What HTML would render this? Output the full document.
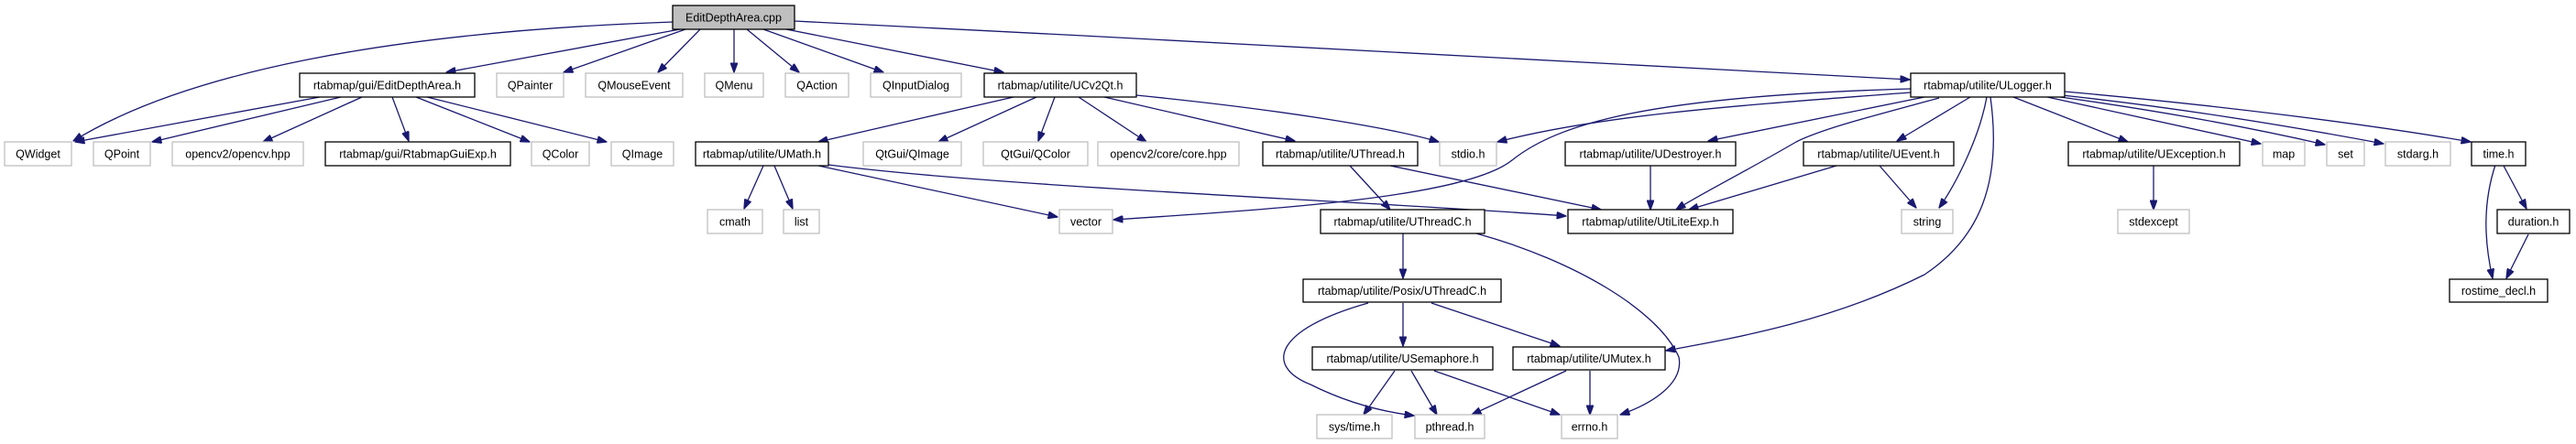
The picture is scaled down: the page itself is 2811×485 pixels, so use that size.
<!DOCTYPE html>
<html><head><meta charset="utf-8"><style>
html,body{margin:0;padding:0;background:#fff;}
svg{display:block;}
text{font-family:"Liberation Sans",sans-serif;font-size:12.5px;text-anchor:middle;fill:#000;}
.e{fill:none;stroke:#191970;stroke-width:1.3;marker-end:url(#a);}
.n{fill:#fff;stroke:#000;stroke-width:1.3;}
.x{fill:#fff;stroke:#bfbfbf;stroke-width:1.3;}
</style></head><body>
<svg width="2811" height="485" viewBox="0 0 2811 485" xmlns="http://www.w3.org/2000/svg">
<defs><marker id="a" markerWidth="11" markerHeight="8" refX="10.5" refY="4" orient="auto" markerUnits="userSpaceOnUse"><path d="M0,0 L11,4 L0,8 z" fill="#191970" stroke="#191970"/></marker></defs>
<path class="e" d="M734,24 C420,35 200,80 80,154"/>
<path class="e" d="M742,32 L487,79"/>
<path class="e" d="M748,32 L615,79"/>
<path class="e" d="M764,32 L718,79"/>
<path class="e" d="M801,32 L801,79"/>
<path class="e" d="M815,32 L872,79"/>
<path class="e" d="M833,32 L964,79"/>
<path class="e" d="M858,32 L1095,79"/>
<path class="e" d="M867,23 C1300,45 1800,70 2084,87"/>
<path class="e" d="M349,106 L82,155"/>
<path class="e" d="M372,106 L166,155"/>
<path class="e" d="M395,106 L287,155"/>
<path class="e" d="M428,106 L446,154"/>
<path class="e" d="M454,106 L578,155"/>
<path class="e" d="M466,106 L662,155"/>
<path class="e" d="M1106,106 L893,155"/>
<path class="e" d="M1131,106 L1024,155"/>
<path class="e" d="M1151,106 L1133,154"/>
<path class="e" d="M1177,106 L1251,155"/>
<path class="e" d="M1205,106 L1413,154"/>
<path class="e" d="M1240,104 C1400,120 1520,140 1570,155"/>
<path class="e" d="M833,181 L812,228"/>
<path class="e" d="M845,181 L865,228"/>
<path class="e" d="M893,181 L1154,237"/>
<path class="e" d="M904,180 C1100,205 1500,220 1709,236"/>
<path class="e" d="M2085,97 C1800,105 1700,135 1650,175 C1600,215 1400,228 1215,240"/>
<path class="e" d="M2085,101 C1900,115 1750,125 1634,155"/>
<path class="e" d="M2100,106 L1864,154"/>
<path class="e" d="M2116,107 C2050,125 1990,140 1960,155 C1900,190 1850,215 1829,229"/>
<path class="e" d="M2150,106 L2070,154"/>
<path class="e" d="M2168,106 C2160,150 2135,200 2116,227"/>
<path class="e" d="M2172,106 C2185,200 2160,260 2100,300 C2000,350 1900,368 1818,383"/>
<path class="e" d="M2197,106 L2322,155"/>
<path class="e" d="M2234,106 L2467,157"/>
<path class="e" d="M2241,105 C2350,120 2450,138 2537,158"/>
<path class="e" d="M2250,104 C2380,118 2500,138 2601,157"/>
<path class="e" d="M2253,100 C2420,115 2580,135 2696,155"/>
<path class="e" d="M2004,181 L1843,229"/>
<path class="e" d="M2051,181 L2091,227"/>
<path class="e" d="M1801,181 L1801,229"/>
<path class="e" d="M1517,181 L1747,229"/>
<path class="e" d="M1473,181 L1517,229"/>
<path class="e" d="M2350,181 L2350,229"/>
<path class="e" d="M2732,181 L2757,228"/>
<path class="e" d="M2723,180 C2710,220 2710,260 2720,304"/>
<path class="e" d="M2759,256 L2735,304"/>
<path class="e" d="M1531,255 L1531,304"/>
<path class="e" d="M1611,255 C1720,285 1810,340 1832,390 C1838,420 1800,442 1768,453"/>
<path class="e" d="M1493,331 C1390,360 1380,400 1430,420 C1470,440 1510,450 1543,454"/>
<path class="e" d="M1531,331 L1531,378"/>
<path class="e" d="M1562,331 L1702,378"/>
<path class="e" d="M1522,405 L1488,453"/>
<path class="e" d="M1540,405 L1568,453"/>
<path class="e" d="M1565,405 L1702,453"/>
<path class="e" d="M1709,405 L1606,453"/>
<path class="e" d="M1735,405 L1735,453"/>
<rect x="734" y="6" width="133" height="26" fill="#bfbfbf" stroke="#000" stroke-width="1.3"/><text x="800.5" y="23.5">EditDepthArea.cpp</text>
<rect class="n" x="327" y="80" width="191" height="26"/><text x="422.5" y="97.5">rtabmap/gui/EditDepthArea.h</text>
<rect class="x" x="542" y="80" width="73" height="26"/><text x="578.5" y="97.5">QPainter</text>
<rect class="x" x="639" y="80" width="106" height="26"/><text x="692" y="97.5">QMouseEvent</text>
<rect class="x" x="769" y="80" width="64" height="26"/><text x="801" y="97.5">QMenu</text>
<rect class="x" x="857" y="80" width="69" height="26"/><text x="891.5" y="97.5">QAction</text>
<rect class="x" x="950" y="80" width="99" height="26"/><text x="999.5" y="97.5">QInputDialog</text>
<rect class="n" x="1074" y="80" width="166" height="26"/><text x="1157" y="97.5">rtabmap/utilite/UCv2Qt.h</text>
<rect class="n" x="2085" y="80" width="168" height="26"/><text x="2169" y="97.5">rtabmap/utilite/ULogger.h</text>
<rect class="x" x="5" y="155" width="73" height="26"/><text x="41.5" y="172.5">QWidget</text>
<rect class="x" x="102" y="155" width="62" height="26"/><text x="133" y="172.5">QPoint</text>
<rect class="x" x="188" y="155" width="143" height="26"/><text x="259.5" y="172.5">opencv2/opencv.hpp</text>
<rect class="n" x="355" y="155" width="202" height="26"/><text x="456" y="172.5">rtabmap/gui/RtabmapGuiExp.h</text>
<rect class="x" x="580" y="155" width="63" height="26"/><text x="611.5" y="172.5">QColor</text>
<rect class="x" x="667" y="155" width="68" height="26"/><text x="701" y="172.5">QImage</text>
<rect class="n" x="759" y="155" width="145" height="26"/><text x="831.5" y="172.5">rtabmap/utilite/UMath.h</text>
<rect class="x" x="942" y="155" width="107" height="26"/><text x="995.5" y="172.5">QtGui/QImage</text>
<rect class="x" x="1073" y="155" width="114" height="26"/><text x="1130" y="172.5">QtGui/QColor</text>
<rect class="x" x="1198" y="155" width="154" height="26"/><text x="1275" y="172.5">opencv2/core/core.hpp</text>
<rect class="n" x="1378" y="155" width="169" height="26"/><text x="1462.5" y="172.5">rtabmap/utilite/UThread.h</text>
<rect class="x" x="1571" y="155" width="62" height="26"/><text x="1602" y="172.5">stdio.h</text>
<rect class="n" x="1708" y="155" width="186" height="26"/><text x="1801" y="172.5">rtabmap/utilite/UDestroyer.h</text>
<rect class="n" x="1968" y="155" width="164" height="26"/><text x="2050" y="172.5">rtabmap/utilite/UEvent.h</text>
<rect class="n" x="2257" y="155" width="187" height="26"/><text x="2350.5" y="172.5">rtabmap/utilite/UException.h</text>
<rect class="x" x="2469" y="155" width="46" height="26"/><text x="2492" y="172.5">map</text>
<rect class="x" x="2539" y="155" width="41" height="26"/><text x="2559.5" y="172.5">set</text>
<rect class="x" x="2603" y="155" width="71" height="26"/><text x="2638.5" y="172.5">stdarg.h</text>
<rect class="n" x="2697" y="155" width="59" height="26"/><text x="2726.5" y="172.5">time.h</text>
<rect class="x" x="772" y="229" width="60" height="26"/><text x="802" y="246.5">cmath</text>
<rect class="x" x="855" y="229" width="39" height="26"/><text x="874.5" y="246.5">list</text>
<rect class="x" x="1156" y="229" width="58" height="26"/><text x="1185" y="246.5">vector</text>
<rect class="n" x="1441" y="229" width="179" height="26"/><text x="1530.5" y="246.5">rtabmap/utilite/UThreadC.h</text>
<rect class="n" x="1711" y="229" width="180" height="26"/><text x="1801" y="246.5">rtabmap/utilite/UtiLiteExp.h</text>
<rect class="x" x="2075" y="229" width="56" height="26"/><text x="2103" y="246.5">string</text>
<rect class="x" x="2311" y="229" width="78" height="26"/><text x="2350" y="246.5">stdexcept</text>
<rect class="n" x="2725" y="229" width="79" height="26"/><text x="2764.5" y="246.5">duration.h</text>
<rect class="n" x="1422" y="305" width="216" height="25"/><text x="1530" y="322">rtabmap/utilite/Posix/UThreadC.h</text>
<rect class="n" x="2673" y="305" width="107" height="25"/><text x="2726.5" y="322">rostime_decl.h</text>
<rect class="n" x="1432" y="379" width="197" height="25"/><text x="1530.5" y="396">rtabmap/utilite/USemaphore.h</text>
<rect class="n" x="1651" y="379" width="166" height="25"/><text x="1734" y="396">rtabmap/utilite/UMutex.h</text>
<rect class="x" x="1437" y="453" width="82" height="26"/><text x="1478" y="470.5">sys/time.h</text>
<rect class="x" x="1544" y="453" width="76" height="26"/><text x="1582" y="470.5">pthread.h</text>
<rect class="x" x="1704" y="453" width="61" height="26"/><text x="1734.5" y="470.5">errno.h</text>
</svg>
</body></html>
